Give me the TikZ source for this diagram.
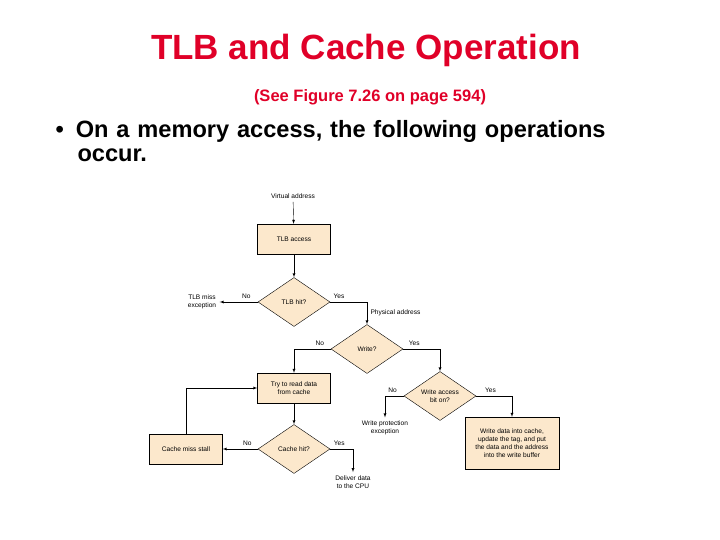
\documentclass[tikz,border=0pt]{standalone}
\usepackage{fontspec}
\setmainfont{Liberation Sans}
\usetikzlibrary{shapes.geometric}
\definecolor{peach}{RGB}{252,232,204}
\definecolor{titlered}{RGB}{224,0,40}
\tikzset{%
        every step/.style={
            rectangle, draw, fill=peach,
            minimum width=73pt, minimum height=30pt,
            align=center, font=\fontsize{6.6}{8}\selectfont
        },
        every test/.style={
            diamond, draw, fill=peach, aspect=1.47,
            minimum width=72pt, minimum height=49pt, inner sep=0pt,
            align=center, font=\fontsize{6.6}{8}\selectfont
        },
        every label/.style={
            align=center, font=\fontsize{6.6}{8}\selectfont
        },
    }
\begin{document}
\begin{tikzpicture}[x=1pt, y=-1pt, >=latex]
        \useasboundingbox (0,0) rectangle (720,540);

        \node [text=titlered, font=\bfseries\fontsize{35}{40}\selectfont] at (366,50) {TLB and Cache Operation};
        \node [text=titlered, font=\bfseries\fontsize{16.5}{19}\selectfont] at (370,97) {(See Figure 7.26 on page 594)};
        \node [anchor=north west, align=left, font=\bfseries\fontsize{23.6}{24}\selectfont, text width=660pt] at (52,117)
            {\textbullet\hspace{12pt}On a memory access, the following operations\\\hspace{22pt}occur.};

        \node [every label/.try] (virtual) at (293,196) {Virtual address};
        \node [every step/.try] (access) at (294,239) {TLB access};
        \node [every test/.try] (tlbhit) at (294,302) {TLB hit?};
        \node [every label/.try] (tlbmiss) at (202,302) {TLB miss\\exception};
        \node [every test/.try] (write) at (367,349) {Write?};
        \node [every step/.try] (read) at (294,388) {Try to read data\\from cache};
        \node [every test/.try] (wrbit) at (440,396) {Write access\\bit on?};
        \node [every label/.try] (protect) at (385,428) {Write protection\\exception};
        \node [every step/.try, minimum width=94pt, minimum height=52pt] (wrdata) at (512,443)
            {Write data into cache,\\update the tag, and put\\the data and the address\\into the write buffer};
        \node [every test/.try] (cachehit) at (294,449) {Cache hit?};
        \node [every step/.try] (stall) at (186,449) {Cache miss stall};
        \node [every label/.try] (deliver) at (353,482) {Deliver data\\to the CPU};

        \draw [->] (virtual) -- (access);
        \draw [->] (access) -- (tlbhit);
        \draw [->] (tlbhit) -- (tlbmiss.east)
            node [every label/.try, above, pos=0.3] {No};
        \draw [->] (tlbhit.east) -| (write.north)
            node [every label/.try, above, pos=0.12] {Yes}
            node [every label/.try, right, pos=0.75] {Physical address};
        \draw [->] (write.west) -| (read.north)
            node [every label/.try, above, pos=0.15] {No};
        \draw [->] (write.east) -| (wrbit.north)
            node [every label/.try, above, pos=0.15] {Yes};
        \draw [->] (wrbit.west) -| (protect.north)
            node [every label/.try, above, pos=0.3] {No};
        \draw [->] (wrbit.east) -| (wrdata.north)
            node [every label/.try, above, pos=0.2] {Yes};
        \draw [->] (read) -- (cachehit);
        \draw [->] (cachehit) -- (stall)
            node [every label/.try, above, pos=0.3] {No};
        \draw [->] (cachehit.east) -| (deliver.north)
            node [every label/.try, above, pos=0.2] {Yes};
        \draw [->] (stall.north) |- (read.west);
    \end{tikzpicture}
\end{document}
